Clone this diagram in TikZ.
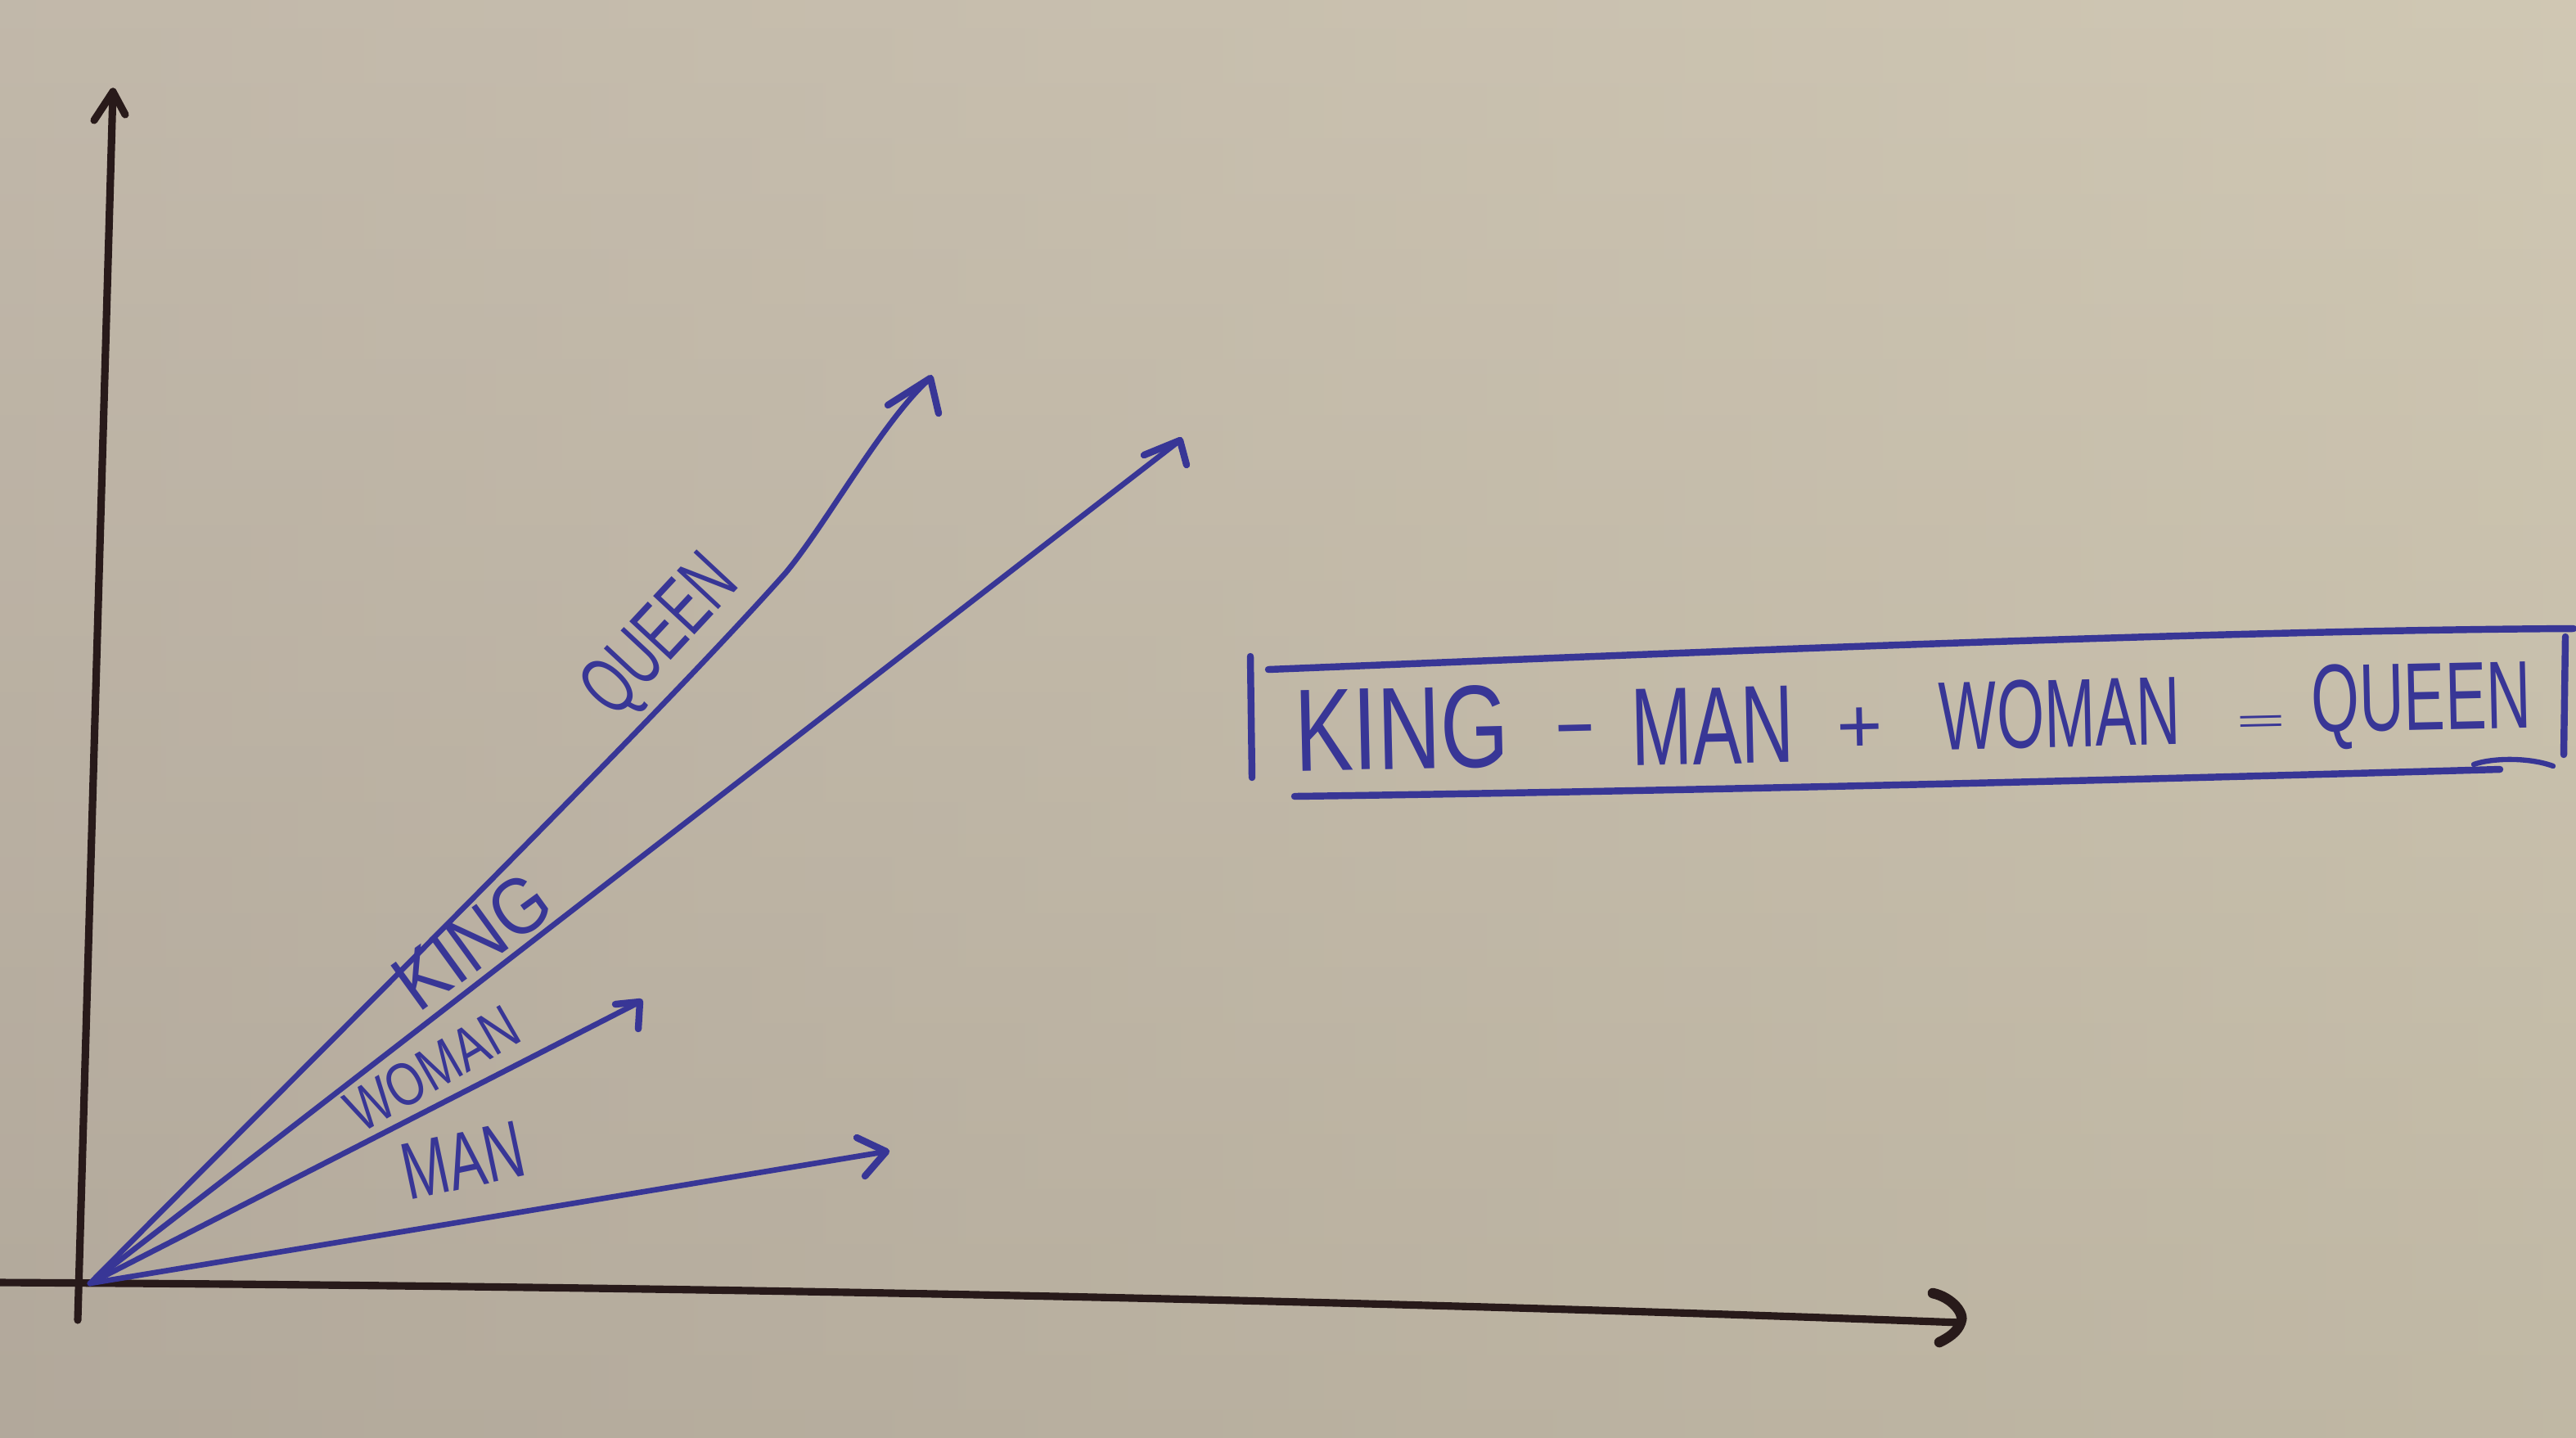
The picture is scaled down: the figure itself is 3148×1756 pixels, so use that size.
\documentclass[tikz,border=0pt]{standalone}
\usepackage{fontspec}
\setmainfont{Liberation Sans}
\usepackage{graphicx}
\definecolor{pen}{RGB}{56,54,150}
\definecolor{ink}{RGB}{40,26,26}
\definecolor{boardTop}{RGB}{204,195,178}
\definecolor{boardBot}{RGB}{178,169,153}
\definecolor{tintL}{RGB}{178,168,158}
\definecolor{tintR}{RGB}{214,207,182}
\begin{document}
\begin{tikzpicture}[x=0.01cm,y=-0.01cm,
  axis/.style={draw=ink, line width=2.6pt, line cap=round, line join=round},
  vec/.style={draw=pen, line width=1.9pt, line cap=round, line join=round},
  barb/.style={draw=pen, line width=2.4pt, line cap=round, line join=round},
  frameline/.style={draw=pen, line width=2.4pt, line cap=round, line join=round},
  hand/.style={text=pen, inner sep=0pt, outer sep=0pt}]
% board
\shade[top color=boardTop, bottom color=boardBot] (0,0) rectangle (3148,1756);
\shade[left color=tintL, right color=tintR, opacity=0.4] (0,0) rectangle (3148,1756);
\useasboundingbox (0,0) rectangle (3148,1756);

% key points
\coordinate (O) at (110,1568);
\coordinate (xL) at (0,1567);
\coordinate (xT) at (2396,1616);
\coordinate (yB) at (95,1613);
\coordinate (yT) at (138,112);
\coordinate (yW1) at (115,147);
\coordinate (yW2) at (153,140);
\coordinate (qT) at (1137,462);
\coordinate (qW1) at (1085,495);
\coordinate (qW2) at (1147,505);
\coordinate (kT) at (1442,538);
\coordinate (kW1) at (1398,556);
\coordinate (kW2) at (1450,568);
\coordinate (wT) at (782,1224);
\coordinate (wW1) at (752,1227);
\coordinate (wW2) at (780,1257);
\coordinate (mT) at (1083,1407);
\coordinate (mW1) at (1047,1390);
\coordinate (mW2) at (1057,1437);

% axes
\draw[axis] (yB) -- (yT);
\draw[axis] (yW1) -- (yT) -- (yW2);
\draw[axis] (xL) .. controls (900,1572) and (1700,1590) .. (xT);
\draw[axis, line width=3.6pt] (2362,1580) .. controls (2385,1585) and (2402,1605) .. (xT)
      .. controls (2392,1628) and (2380,1635) .. (2370,1640);

% vectors
\draw[vec] (O) .. controls (420,1255) and (800,880) .. (960,700)
      .. controls (1010,640) and (1080,512) .. (qT);
\draw[barb] (qW1) -- (qT) -- (qW2);
\draw[vec] (O) -- (kT);
\draw[barb] (kW1) -- (kT) -- (kW2);
\draw[vec] (O) -- (wT);
\draw[barb] (wW1) -- (wT) -- (wW2);
\draw[vec] (O) -- (mT);
\draw[barb] (mW1) -- (mT) -- (mW2);

% vector labels
\node[hand, rotate=47] (lQueen) at (810,780) {\resizebox{2.25cm}{0.7cm}{QUEEN}};
\node[hand, rotate=36] (lKing) at (577,1150) {\resizebox{2.1cm}{0.68cm}{KING}};
\node[hand, rotate=30] (lWoman) at (528,1306) {\resizebox{2.3cm}{0.52cm}{WOMAN}};
\node[hand, rotate=12] (lMan) at (566,1418) {\resizebox{1.5cm}{0.68cm}{MAN}};

% boxed equation
\draw[frameline] (1528,802) -- (1530,950);
\draw[frameline] (1550,818) .. controls (2000,800) and (2700,770) .. (3145,768);
\draw[frameline] (3135,778) -- (3133,922);
\draw[frameline] (1582,973) .. controls (2100,966) and (2700,950) .. (3055,940);
\draw[frameline, line width=1.8pt] (3023,934) .. controls (3045,926) and (3090,925) .. (3120,936);

\node[hand, rotate=1.3] (eKing) at (1713,890) {\resizebox{2.62cm}{1.0cm}{KING}};
\node[hand, rotate=1.3, anchor=north] (eMinus) at (1925,886) {\resizebox{0.54cm}{0.3cm}{-}};
\node[hand, rotate=1.3] (eMan) at (2093,887) {\resizebox{1.99cm}{0.93cm}{MAN}};
\node[hand, rotate=1.3] (ePlus) at (2273,892) {\resizebox{0.56cm}{0.55cm}{+}};
\node[hand, rotate=1.3] (eWoman) at (2517,872) {\resizebox{2.94cm}{0.83cm}{WOMAN}};
\node[hand, rotate=1.3] (eEq) at (2763,885) {\resizebox{0.6cm}{0.2cm}{=}};
\node[hand, rotate=1.3] (eQueen) at (2959,862) {\resizebox{2.68cm}{0.82cm}{QUEEN}};
\end{tikzpicture}
\end{document}
